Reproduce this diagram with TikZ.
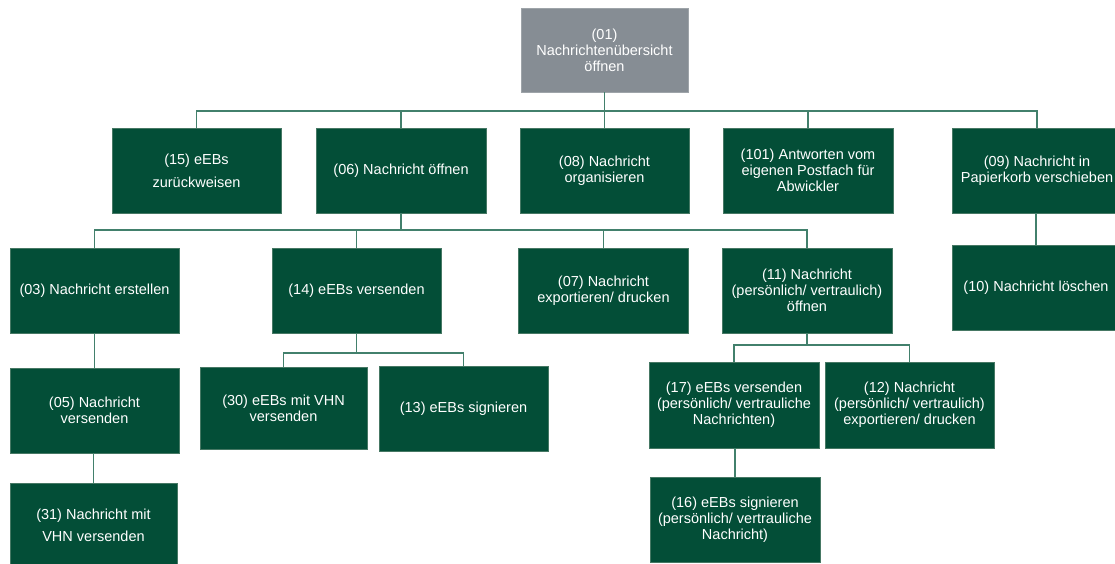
\documentclass[tikz,border=0pt]{standalone}
\usepackage{fontspec}
\setmainfont{Liberation Sans}
\definecolor{boxgreen}{RGB}{3,78,55}
\definecolor{boxedge}{RGB}{70,120,100}
\definecolor{linegreen}{RGB}{66,128,108}
\definecolor{topgray}{RGB}{134,141,148}
\begin{document}
\begin{tikzpicture}[x=1pt,y=-1pt,
  box/.style={rectangle, fill=boxgreen, draw=boxedge, line width=0.7pt, text=white,
    align=center, inner sep=0pt, font=\fontsize{14.5}{16}\selectfont,
    minimum width=169pt, minimum height=85pt},
  topbox/.style={box, fill=topgray, draw=topgray!80!white},
  conn/.style={draw=linegreen, line width=1.6pt}]
\useasboundingbox (0,0) rectangle (1115,564);
% level 0
\node[topbox, minimum width=167pt, minimum height=84pt] (n01) at (604.5,50) {(01)\\Nachrichtenübersicht\\öffnen};
% level 1
\node[box] (n15) at (196.5,170.5) {(15) eEBs\\[7pt]zurückweisen};
\node[box, minimum width=170pt] (n06) at (401,170.5) {(06) Nachricht öffnen};
\node[box] (n08) at (604.5,170.5) {(08) Nachricht\\organisieren};
\node[box, minimum width=170pt] (n101) at (808,170.5) {(101) Antworten vom\\eigenen Postfach für\\Abwickler};
\node[box, minimum width=170pt] (n09) at (1037,170.5) {(09) Nachricht in\\Papierkorb verschieben};
% level 2
\node[box] (n03) at (94.5,290.5) {(03) Nachricht erstellen};
\node[box] (n14) at (356.5,290.5) {(14) eEBs versenden};
\node[box, minimum width=170pt] (n07) at (603.5,290.5) {(07) Nachricht\\exportieren/ drucken};
\node[box, minimum width=170pt] (n11) at (807,290.5) {(11) Nachricht\\(persönlich/ vertraulich)\\öffnen};
\node[box, minimum width=167pt] (n10) at (1036,287.5) {(10) Nachricht löschen};
% level 3
\node[box] (n05) at (94.5,410.5) {(05) Nachricht\\versenden};
\node[box, minimum width=167pt, minimum height=82pt] (n30) at (283.5,408) {(30) eEBs mit VHN\\versenden};
\node[box] (n13) at (463.5,408.5) {(13) eEBs signieren};
\node[box, minimum width=170pt, minimum height=86pt] (n17) at (734,405) {(17) eEBs versenden\\(persönlich/ vertrauliche\\Nachrichten)};
\node[box, minimum height=86pt] (n12) at (909.5,405) {(12) Nachricht\\(persönlich/ vertraulich)\\exportieren/ drucken};
% level 4
\node[box, minimum width=167pt, minimum height=84pt] (n31) at (93.5,525) {(31) Nachricht mit\\[6pt]VHN versenden};
\node[box, minimum width=170pt] (n16) at (735,519.5) {(16) eEBs signieren\\(persönlich/ vertrauliche\\Nachricht)};
% connectors
\coordinate (b1) at (0,111);
\foreach \c in {n15,n06,n08,n101,n09}
  \draw[conn] (n01.south) -- (n01.south |- b1) -| (\c.north);
\coordinate (b2) at (0,230);
\foreach \c in {n03,n14,n07,n11}
  \draw[conn] (n06.south) -- (n06.south |- b2) -| (\c.north);
\coordinate (b3) at (0,353);
\foreach \c in {n30,n13}
  \draw[conn] (n14.south) -- (n14.south |- b3) -| (\c.north);
\coordinate (b4) at (0,345);
\foreach \c in {n17,n12}
  \draw[conn] (n11.south) -- (n11.south |- b4) -| (\c.north);
\draw[conn] (n03.south) -- (n05.north);
\draw[conn] (n31.north) -- (n31.north |- n05.south);
\draw[conn] (n10.north) -- (n10.north |- n09.south);
\draw[conn] (n16.north) -- (n16.north |- n17.south);
\end{tikzpicture}
\end{document}
